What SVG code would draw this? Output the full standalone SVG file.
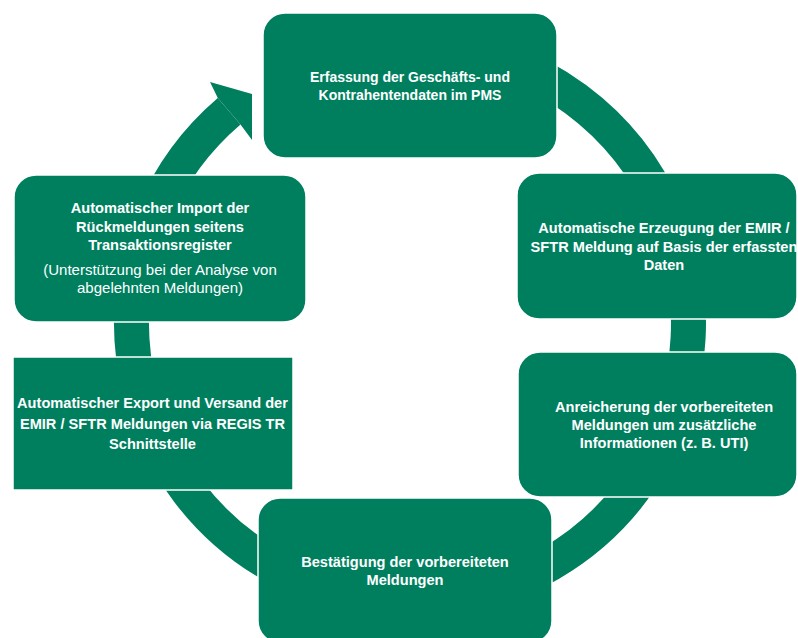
<svg xmlns="http://www.w3.org/2000/svg" width="798" height="638" viewBox="0 0 798 638">
<style>
.box{fill:#007F5F;stroke:#ffffff;stroke-width:1.5}
.ring{fill:none;stroke:#007F5F;stroke-width:35}
.head{fill:#007F5F}
text{font-family:"Liberation Sans",Arial,sans-serif;fill:#ffffff;text-anchor:middle}
.b{font-weight:bold;font-size:14.6px}
.r{font-weight:normal;font-size:15px}
</style>
<rect width="798" height="638" fill="#ffffff"/>
<g id="connectors">
<path class="ring" d="M314.75,61.3 A278.5,278.5 0 1 1 229.14,111.22"/>
<polygon class="head" points="217.8,97.9 210,82 252,94 252,140 240.5,124.5"/>
</g>
<g id="node1">
<rect class="box" x="263" y="13" width="294" height="145" rx="22"/>
<text class="b" style="font-size:14px" x="410" y="82">Erfassung der Geschäfts- und</text>
<text class="b" style="font-size:14px" x="410" y="100">Kontrahentendaten im PMS</text>
</g>
<g id="node2">
<rect class="box" x="517" y="173" width="280" height="146" rx="22"/>
<text class="b" x="664" y="233">Automatische Erzeugung der EMIR /</text>
<text class="b" x="664" y="251.5">SFTR Meldung auf Basis der erfassten</text>
<text class="b" x="664" y="270">Daten</text>
</g>
<g id="node3">
<rect class="box" x="518" y="352" width="279" height="145" rx="22"/>
<text class="b" x="664" y="412">Anreicherung der vorbereiteten</text>
<text class="b" x="664" y="430">Meldungen um zusätzliche</text>
<text class="b" x="664" y="448">Informationen (z. B. UTI)</text>
</g>
<g id="node4">
<rect class="box" x="258" y="498" width="294" height="145" rx="22"/>
<text class="b" x="405" y="567">Bestätigung der vorbereiteten</text>
<text class="b" x="405" y="585">Meldungen</text>
</g>
<g id="node5">
<rect class="box" x="13" y="357" width="280" height="133"/>
<text class="b" x="152.5" y="408">Automatischer Export und Versand der</text>
<text class="b" x="152.5" y="428.5">EMIR / SFTR Meldungen via REGIS TR</text>
<text class="b" x="152.5" y="449">Schnittstelle</text>
</g>
<g id="node6">
<rect class="box" x="14" y="175" width="292" height="147" rx="22"/>
<text class="b" x="160" y="213">Automatischer Import der</text>
<text class="b" x="160" y="231.5">Rückmeldungen seitens</text>
<text class="b" x="160" y="250">Transaktionsregister</text>
<text class="r" x="160" y="275">(Unterstützung bei der Analyse von</text>
<text class="r" x="160" y="293">abgelehnten Meldungen)</text>
</g>
</svg>
